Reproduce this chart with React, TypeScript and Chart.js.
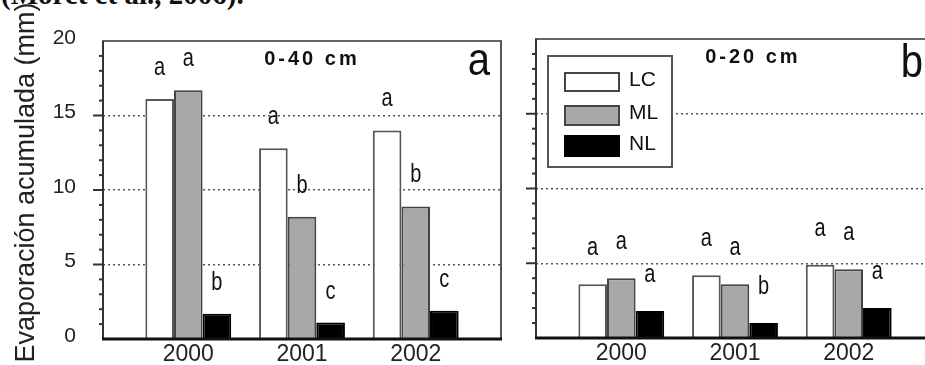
import React, { useEffect, useRef } from 'react';
import { Chart, registerables } from 'chart.js';

Chart.register(...registerables);

// ---- data ----
const years = ['2000', '2001', '2002'];
const seriesNames = ['LC', 'ML', 'NL'];
const seriesFill = ['#ffffff', '#a8a8a8', '#000000'];
const seriesBorder = ['#555555', '#444444', '#000000'];

// Panel a: 0-40 cm
const lcA = [16.1, 12.8, 14.0];
const mlA = [16.7, 8.2, 8.9];
const nlA = [1.7, 1.1, 1.9];
const sigLcA = ['a', 'a', 'a'];
const sigMlA = ['a', 'b', 'b'];
const sigNlA = ['b', 'c', 'c'];

// Panel b: 0-20 cm
const lcB = [3.6, 4.2, 4.9];
const mlB = [4.0, 3.6, 4.6];
const nlB = [1.8, 1.0, 2.0];
const sigLcB = ['a', 'a', 'a'];
const sigMlB = ['a', 'a', 'a'];
const sigNlB = ['a', 'b', 'a'];

const yMin = 0;
const yMax = 20;
const yMajorStep = 5;
const yMinorStep = 1;

const FONT = "'Liberation Sans', Arial, sans-serif";

type PanelOpts = {
  title: string;
  titleFrac: number;
  letter: string;
  letterBase: number;
  sig: string[][];
  sigGap: number;
  legend: boolean;
};

const panelPlugin = {
  id: 'panelDecor',
  afterDatasetsDraw(chart: any, _args: any, opts: PanelOpts) {
    const { ctx, chartArea } = chart;
    const { left, right, top, bottom } = chartArea;
    const ys = chart.scales.y;
    ctx.save();

    // frame
    ctx.lineCap = 'butt';
    ctx.strokeStyle = '#666';
    ctx.lineWidth = 2;
    ctx.beginPath();
    ctx.moveTo(left - 1, top);
    ctx.lineTo(right + 1, top);
    ctx.stroke();
    ctx.strokeStyle = '#555';
    ctx.beginPath();
    ctx.moveTo(right, top);
    ctx.lineTo(right, bottom);
    ctx.stroke();
    ctx.strokeStyle = '#333';
    ctx.beginPath();
    ctx.moveTo(left, top);
    ctx.lineTo(left, bottom);
    ctx.stroke();

    // tick marks
    ctx.strokeStyle = '#333';
    ctx.lineWidth = 2;
    for (let v = yMin + yMinorStep; v < yMax; v += yMinorStep) {
      const py = ys.getPixelForValue(v);
      const len = v % yMajorStep === 0 ? 10 : 4;
      ctx.beginPath();
      ctx.moveTo(left - len, py);
      ctx.lineTo(left, py);
      ctx.stroke();
    }

    // bottom axis
    ctx.strokeStyle = '#111';
    ctx.lineWidth = 3;
    ctx.beginPath();
    ctx.moveTo(left - 1, bottom);
    ctx.lineTo(right + 1, bottom);
    ctx.stroke();

    // significance letters
    ctx.fillStyle = '#111';
    ctx.font = `20px ${FONT}`;
    ctx.textAlign = 'center';
    ctx.textBaseline = 'alphabetic';
    chart.data.datasets.forEach((_ds: any, i: number) => {
      const meta = chart.getDatasetMeta(i);
      meta.data.forEach((bar: any, j: number) => {
        const t = opts.sig[i][j];
        ctx.save();
        ctx.translate(bar.x, bar.y - opts.sigGap);
        ctx.scale(1, 1.3);
        ctx.fillText(t, 0, 0);
        ctx.restore();
      });
    });

    // title
    ctx.font = `bold 20px ${FONT}`;
    (ctx as any).letterSpacing = '3px';
    ctx.textAlign = 'center';
    ctx.textBaseline = 'middle';
    ctx.fillText(opts.title, left + (right - left) * opts.titleFrac, top + 18);
    (ctx as any).letterSpacing = '0px';

    // panel letter
    ctx.save();
    ctx.font = `40px ${FONT}`;
    ctx.textAlign = 'right';
    ctx.textBaseline = 'alphabetic';
    ctx.translate(right - 11, top + opts.letterBase);
    ctx.scale(1, 1.15);
    ctx.fillText(opts.letter, 0, 0);
    ctx.restore();

    // legend
    if (opts.legend) {
      const bx = left + 12;
      const by = top + 17;
      ctx.fillStyle = '#ffffff';
      ctx.fillRect(bx, by, 124, 111);
      ctx.strokeStyle = '#555';
      ctx.lineWidth = 2;
      ctx.strokeRect(bx, by, 124, 111);
      const rowTop = [17, 50, 80];
      const rowH = [18, 19, 20];
      chart.data.datasets.forEach((ds: any, i: number) => {
        const sx = bx + 17;
        const sy = by + rowTop[i];
        ctx.fillStyle = ds.backgroundColor;
        ctx.fillRect(sx, sy, 54, rowH[i]);
        ctx.strokeStyle = i === 2 ? '#000' : '#444';
        ctx.lineWidth = 2;
        ctx.strokeRect(sx, sy, 54, rowH[i]);
        ctx.fillStyle = '#111';
        ctx.font = `21px ${FONT}`;
        ctx.textAlign = 'left';
        ctx.textBaseline = 'middle';
        ctx.fillText(ds.label, bx + 81, sy + rowH[i] / 2 - 2);
      });
    }
    ctx.restore();
  },
};

function makeConfig(
  values: number[][],
  opts: PanelOpts,
  padding: { top: number; right: number },
  yWidth: number,
  xHeight: number,
  showYLabels: boolean
): any {
  return {
    type: 'bar',
    data: {
      datasets: values.map((vals, i) => ({
        label: seriesNames[i],
        data: vals.map((v, j) => ({ x: j + 1, y: v })),
        backgroundColor: seriesFill[i],
        borderColor: seriesBorder[i],
        borderWidth: 2,
        borderSkipped: 'start',
        categoryPercentage: 0.755,
        barPercentage: 1.0,
      })),
    },
    options: {
      responsive: false,
      animation: false,
      devicePixelRatio: 1,
      layout: { padding: { left: 0, top: padding.top, right: padding.right, bottom: 0 } },
      plugins: {
        legend: { display: false },
        tooltip: { enabled: false },
        title: { display: false },
        panelDecor: opts,
      },
      scales: {
        x: {
          type: 'linear',
          offset: false,
          min: 0.25,
          max: 3.75,
          afterBuildTicks: (scale: any) => {
            scale.ticks = years.map((_y, i) => ({ value: i + 1 }));
          },
          afterFit: (scale: any) => {
            scale.height = xHeight;
            scale.paddingLeft = 0;
            scale.paddingRight = 0;
          },
          grid: { display: false, drawTicks: false },
          border: { display: false },
          ticks: {
            padding: 2,
            color: '#222',
            font: { family: FONT, size: 23 },
            callback: (v: number) => years[Math.round(v) - 1] ?? '',
            maxRotation: 0,
            autoSkip: false,
          },
        },
        y: {
          type: 'linear',
          min: yMin,
          max: yMax,
          afterFit: (scale: any) => {
            scale.width = yWidth;
            scale.paddingTop = 0;
            scale.paddingBottom = 0;
          },
          title: {
            display: showYLabels,
            text: '  Evaporación acumulada (mm)',
            color: '#222',
            font: { family: FONT, size: 27 },
            padding: { top: 10, bottom: 0 },
          },
          grid: {
            drawTicks: false,
            lineWidth: 1.5,
            color: (c: any) => {
              const v = c.tick ? c.tick.value : -1;
              return v > yMin && v < yMax && v % yMajorStep === 0 ? '#555' : 'rgba(0,0,0,0)';
            },
          },
          border: { display: false, dash: [2, 3] },
          ticks: {
            display: showYLabels,
            stepSize: yMinorStep,
            maxTicksLimit: 100,
            autoSkip: false,
            padding: 27,
            labelOffset: -3,
            color: '#222',
            font: { family: FONT, size: 21 },
            callback: (v: number) => (v % yMajorStep === 0 ? String(v) : ''),
          },
        },
      },
    },
    plugins: [panelPlugin],
  };
}

function Panel(props: {
  left: number;
  width: number;
  values: number[][];
  opts: PanelOpts;
  padTop: number;
  padRight: number;
  yWidth: number;
  xHeight: number;
  showYLabels: boolean;
}) {
  const ref = useRef<HTMLCanvasElement | null>(null);
  useEffect(() => {
    if (!ref.current) return;
    const chart = new Chart(
      ref.current,
      makeConfig(
        props.values,
        props.opts,
        { top: props.padTop, right: props.padRight },
        props.yWidth,
        props.xHeight,
        props.showYLabels
      )
    );
    return () => chart.destroy();
  }, []);
  return (
    <div style={{ position: 'absolute', left: props.left, top: 0, width: props.width, height: 365 }}>
      <canvas ref={ref} width={props.width} height={365} style={{ width: props.width, height: 365 }} />
    </div>
  );
}

export default function App() {
  return (
    <div
      style={{
        position: 'absolute',
        left: 0,
        top: 0,
        width: 925,
        height: 365,
        overflow: 'hidden',
        background: '#ffffff',
      }}
    >
      <div
        style={{
          position: 'absolute',
          left: 1,
          top: -20,
          fontFamily: "'Liberation Serif', 'Times New Roman', serif",
          fontWeight: 'bold',
          fontSize: 29,
          lineHeight: '29px',
          whiteSpace: 'nowrap',
          color: '#111',
        }}
      >
        (Moret et al., 2006).
      </div>
      <Panel
        left={0}
        width={510}
        values={[lcA, mlA, nlA]}
        opts={{
          title: '0-40 cm',
          titleFrac: 0.525,
          letter: 'a',
          letterBase: 34,
          sig: [sigLcA, sigMlA, sigNlA],
          sigGap: 24,
          legend: false,
        }}
        padTop={41}
        padRight={9}
        yWidth={103}
        xHeight={26}
        showYLabels={true}
      />
      <Panel
        left={505}
        width={455}
        values={[lcB, mlB, nlB]}
        opts={{
          title: '0-20 cm',
          titleFrac: 0.545,
          letter: 'b',
          letterBase: 38,
          sig: [sigLcB, sigMlB, sigNlB],
          sigGap: 29,
          legend: true,
        }}
        padTop={39}
        padRight={26}
        yWidth={31}
        xHeight={27}
        showYLabels={false}
      />
    </div>
  );
}
